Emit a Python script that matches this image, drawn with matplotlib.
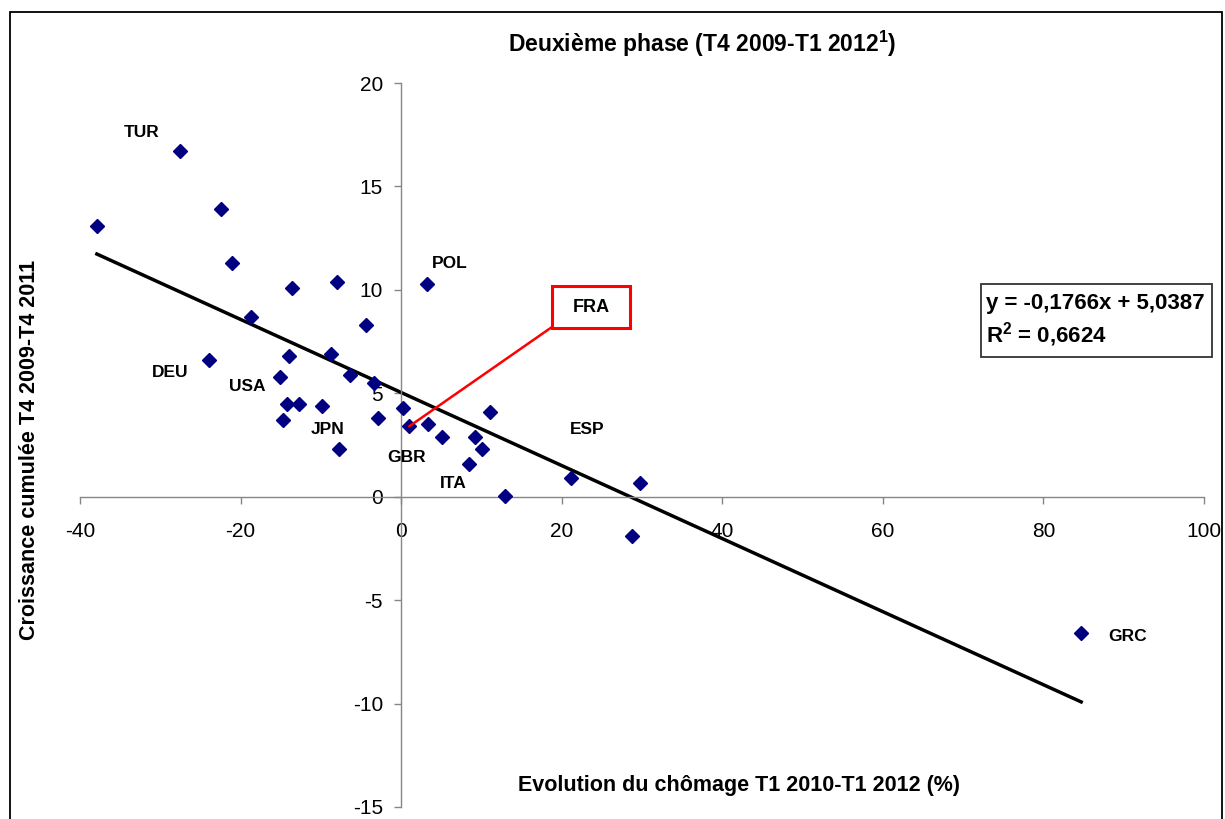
import matplotlib
matplotlib.use("Agg")
import matplotlib.pyplot as plt
from matplotlib.patches import Rectangle

plt.rcParams['font.family'] = ['Liberation Sans', 'DejaVu Sans']
plt.rcParams['axes.unicode_minus'] = False
plt.rcParams['mathtext.fontset'] = 'custom'
plt.rcParams['mathtext.rm'] = 'Liberation Sans:bold'
plt.rcParams['mathtext.bf'] = 'Liberation Sans:bold'

# chômage evolution (%) vs cumulated growth (%)
chomage = [-37.9, -27.5, -22.4, -21.1, -18.7, -23.9, -13.6, -8.0, -4.4, -14.0,
           -8.7, -15.1, -6.4, -3.4, -14.2, -12.7, -9.8, -14.7, -2.9, -7.8,
           0.2, 1.0, 3.2, 3.4, 5.1, 11.1, 9.2, 10.1, 8.4, 12.9,
           21.1, 29.8, 28.7, 84.7]
croissance = [13.1, 16.7, 13.9, 11.3, 8.7, 6.6, 10.1, 10.4, 8.3, 6.8,
              6.9, 5.8, 5.9, 5.5, 4.5, 4.5, 4.4, 3.7, 3.8, 2.3,
              4.3, 3.4, 10.3, 3.5, 2.9, 4.1, 2.9, 2.3, 1.6, 0.05,
              0.9, 0.65, -1.9, -6.6]
codes = ['', 'TUR', '', '', '', 'DEU', '', '', '', '',
         '', 'USA', '', '', '', '', '', '', '', 'JPN',
         'GBR', 'FRA', 'POL', '', '', '', '', '', 'ITA', '',
         'ESP', '', '', 'GRC']

slope = -0.1766
intercept = 5.0387
r2 = 0.6624

x_ticks = [-40, -20, 0, 20, 40, 60, 80, 100]
y_ticks = [-15, -10, -5, 0, 5, 10, 15, 20]

# label offsets in pixels (layout only)
label_offsets = {'TUR': (-39, 19), 'DEU': (-39, -12), 'USA': (-33, -10),
                 'JPN': (-11, 20), 'GBR': (4, -50), 'ITA': (-15, -20),
                 'POL': (23, 20), 'ESP': (17, 49), 'GRC': (46, -3)}

W, H = 1225, 819
fig = plt.figure(figsize=(W / 100, H / 100), dpi=100)
ax = fig.add_axes([80 / W, 1 - 807 / H, (1204 - 80) / W, (807 - 83) / H])
ax.set_xlim(-40, 100)
ax.set_ylim(-15, 20)
ax.patch.set_visible(False)

ax.spines['left'].set_position(('data', 0))
ax.spines['bottom'].set_position(('data', 0))
ax.spines['top'].set_visible(False)
ax.spines['right'].set_visible(False)
for s in ('left', 'bottom'):
    ax.spines[s].set_color('#868686')
    ax.spines[s].set_linewidth(1.0)

ax.set_xticks(x_ticks)
ax.set_yticks(y_ticks)
ax.tick_params(axis='both', direction='out', length=5, width=1.0,
               color='#868686', labelsize=15, labelcolor='black')
ax.tick_params(axis='x', pad=13)
ax.tick_params(axis='y', pad=8)

# trendline over the data range
xmin, xmax = min(chomage), max(chomage)
ax.plot([xmin, xmax], [slope * xmin + intercept, slope * xmax + intercept],
        color='black', lw=2.5, zorder=2)

ax.plot(chomage, croissance, linestyle='none', marker='D', markersize=6.8,
        color='#000080', zorder=3)

for i, c in enumerate(codes):
    if c in label_offsets:
        ax.annotate(c, xy=(chomage[i], croissance[i]), xytext=label_offsets[c],
                    textcoords='offset pixels', ha='center', va='center',
                    fontsize=12.5, fontweight='bold')

# FRA callout
fi = codes.index('FRA')
ax.annotate('', xy=(chomage[fi], croissance[fi]), xytext=(552, H - 327),
            textcoords='figure pixels',
            arrowprops=dict(arrowstyle='-', color='red', lw=1.8,
                            shrinkA=0, shrinkB=0))
fig.patches.append(Rectangle((552 / W, 1 - 328 / H), 78 / W, 42 / H,
                             transform=fig.transFigure, fc='white', ec='red',
                             lw=2.2, zorder=5))
fig.text(591 / W, 1 - 307 / H, 'FRA', ha='center', va='center',
         fontsize=13, fontweight='bold', zorder=6)

# equation box
fig.patches.append(Rectangle((981 / W, 1 - 357 / H), 231 / W, 73 / H,
                             transform=fig.transFigure, fc='white',
                             ec='#333333', lw=1.3, zorder=5))
eq = 'y = %sx + %s' % (('%.4f' % slope).replace('.', ','),
                        ('%.4f' % intercept).replace('.', ','))
fig.text(986 / W, 1 - 304 / H, eq, ha='left', va='center',
         fontsize=16, fontweight='bold', zorder=6)
fig.text(986 / W, 1 - 335 / H, 'R$^{2}$ = ' + ('%.4f' % r2).replace('.', ','),
         ha='left', va='center', fontsize=16, fontweight='bold', zorder=6)

# titles
fig.text(702 / W, 1 - 44 / H, 'Deuxième phase (T4 2009-T1 2012$^{1}$)',
         ha='center', va='center', fontsize=16.5, fontweight='bold')
fig.text(739 / W, 1 - 786 / H, 'Evolution du chômage T1 2010-T1 2012 (%)',
         ha='center', va='center', fontsize=15.5, fontweight='bold')
fig.text(30 / W, 1 - 450 / H, 'Croissance cumulée T4 2009-T4 2011',
         ha='center', va='center', rotation=90, fontsize=15.5,
         fontweight='bold')

# outer frame
fig.patches.append(Rectangle((10 / W, -0.05), 1212 / W, 1 - 12 / H + 0.05,
                             transform=fig.transFigure, fill=False,
                             ec='black', lw=1.3))

fig.savefig('out.png', dpi=100)
